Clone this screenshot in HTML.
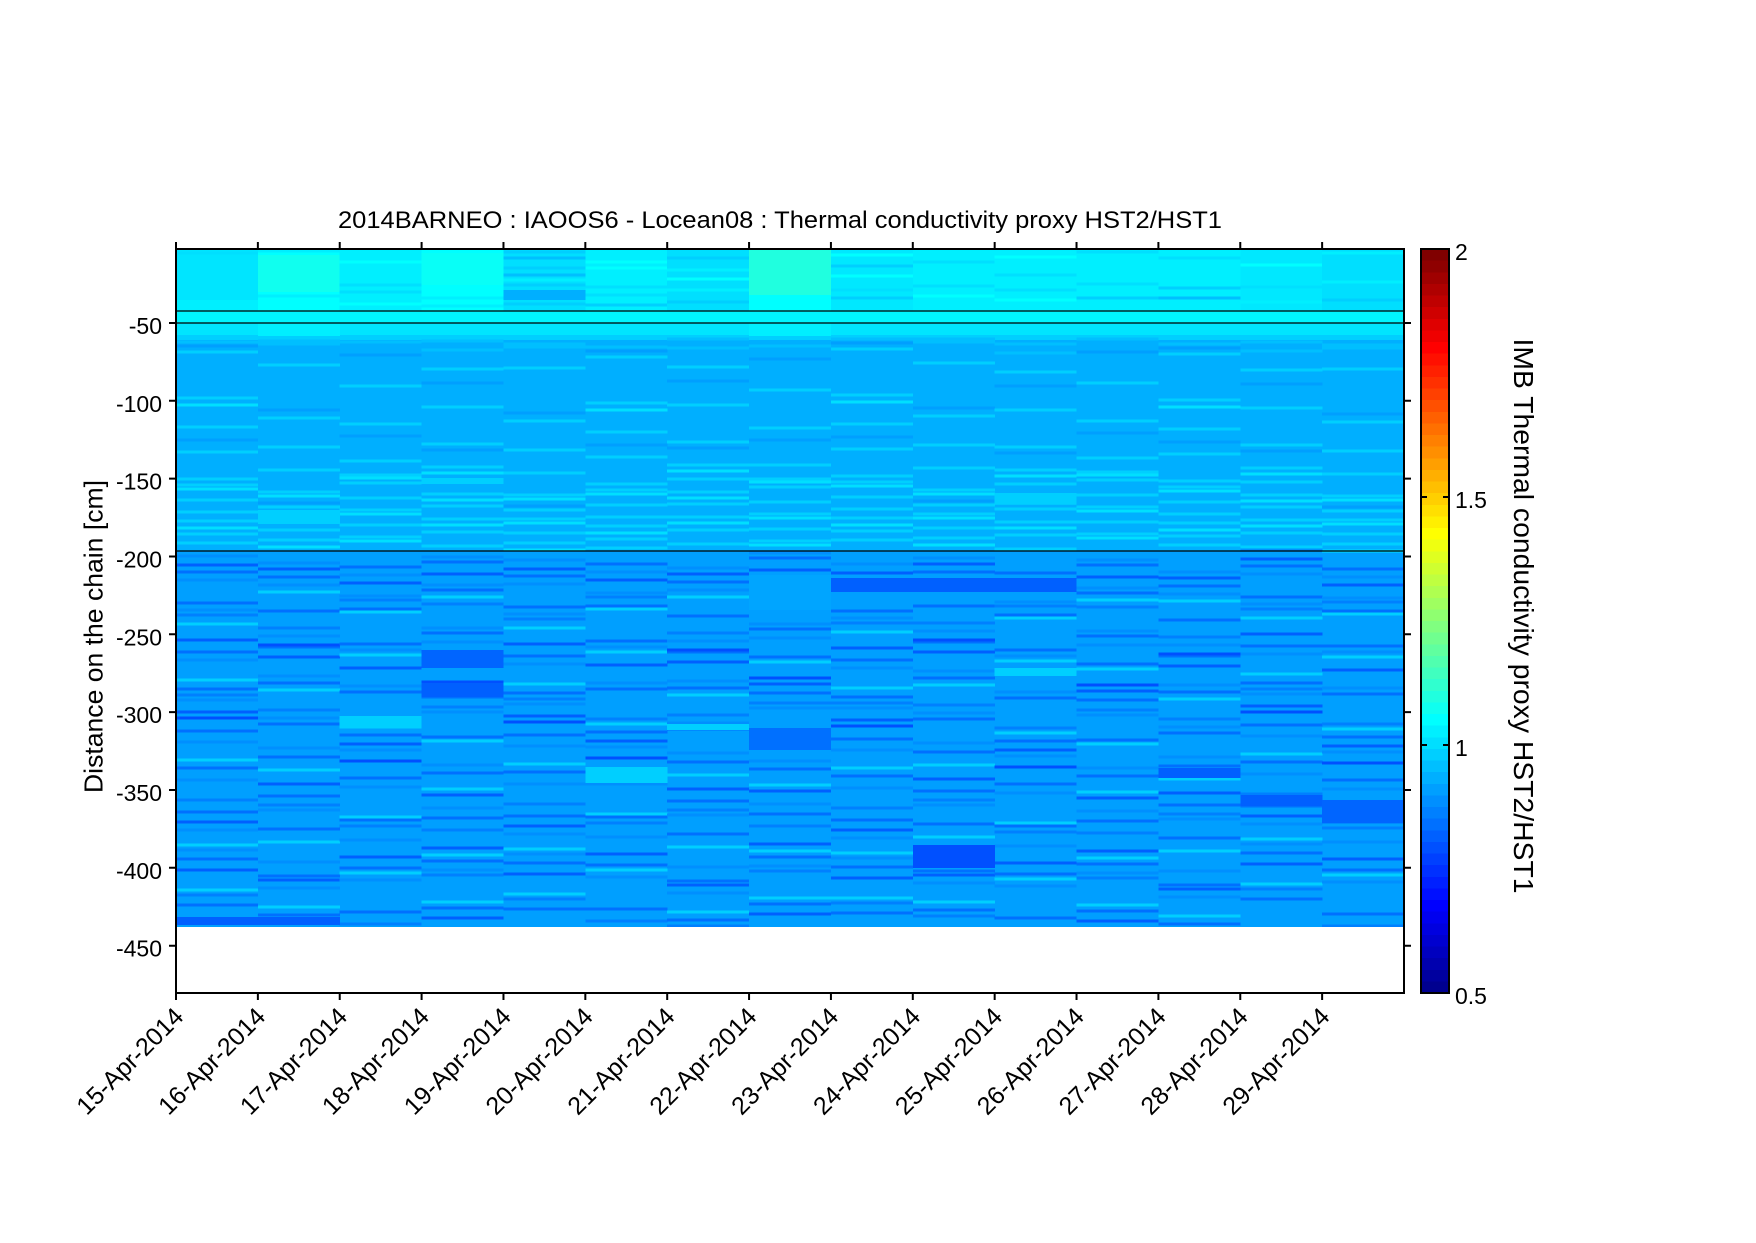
<!DOCTYPE html>
<html>
<head>
<meta charset="utf-8">
<style>
  html,body{margin:0;padding:0;background:#fff;}
  svg{display:block;}
  text{font-family:"Liberation Sans", Arial, sans-serif; fill:#000;}
</style>
</head>
<body>
<svg xmlns="http://www.w3.org/2000/svg" xmlns:xlink="http://www.w3.org/1999/xlink" width="1756" height="1243" viewBox="0 0 1756 1243">
  <defs>
    <g id="m1" fill="none" stroke-width="3.2">
      <path stroke="#00BFFF" d="M0 342h82"/>
      <path stroke="#00CFFF" d="M0 352h82M0 398h82M0 427h82M0 452h82M0 479h82M0 485h82M0 500h82M0 512h82M0 521h82M0 534h82M0 543h82"/>
      <path stroke="#00DFFF" d="M0 405h82M0 489h82M0 528h82"/>
      <path stroke="#009FFF" d="M0 346h82M0 440h82"/>
    </g>
    <g id="m2" fill="none" stroke-width="3.2">
      <path stroke="#00BFFF" d="M0 341h82M0 344h82"/>
      <path stroke="#00CFFF" d="M0 365h82M0 418h82M0 447h82M0 470h82M0 492h82M0 507h82M0 516h82M0 530h82M0 540h82"/>
      <path stroke="#00DFFF" d="M0 496h82M0 520h82M0 547h82"/>
      <path stroke="#009FFF" d="M0 410h82M0 503h82"/>
    </g>
    <g id="m3" fill="none" stroke-width="3.2">
      <path stroke="#00BFFF" d="M0 342h82"/>
      <path stroke="#00CFFF" d="M0 386h82M0 424h82M0 461h82M0 475h82M0 483h82M0 498h82M0 510h82M0 525h82M0 537h82"/>
      <path stroke="#00DFFF" d="M0 478h82M0 514h82M0 541h82"/>
      <path stroke="#009FFF" d="M0 355h82M0 436h82"/>
    </g>
    <g id="m4" fill="none" stroke-width="3.2">
      <path stroke="#00BFFF" d="M0 341h82M0 350h82"/>
      <path stroke="#00CFFF" d="M0 369h82M0 407h82M0 444h82M0 467h82M0 481h82M0 494h82M0 506h82M0 519h82M0 532h82M0 546h82"/>
      <path stroke="#00DFFF" d="M0 473h82M0 500h82M0 525h82"/>
      <path stroke="#009FFF" d="M0 383h82M0 450h82"/>
    </g>

    <g id="l1" fill="none" stroke-width="3.2">
      <path stroke="#008FFF" d="M0 556h82M0 610h82M0 700h82M0 780h82M0 830h82M0 580h82M0 660h82M0 742h82M0 850h82"/>
      <path stroke="#0080FF" d="M0 615h82M0 695h82M0 800h82M0 895h82"/>
      <path stroke="#0070FF" d="M0 572h82M0 603h82M0 652h82M0 689h82M0 731h82M0 768h82M0 812h82M0 859h82M0 905h82"/>
      <path stroke="#0060FF" d="M0 565h82M0 640h82M0 712h82M0 822h82M0 870h82"/>
      <path stroke="#0050FF" d="M0 718h82"/>
      <path stroke="#00CFFF" d="M0 624h82M0 680h82M0 760h82M0 845h82M0 890h82"/>
    </g>
    <g id="l2" fill="none" stroke-width="3.2">
      <path stroke="#008FFF" d="M0 563h82M0 636h82M0 718h82M0 810h82M0 888h82M0 585h82M0 676h82M0 748h82M0 862h82"/>
      <path stroke="#0080FF" d="M0 628h82M0 710h82M0 805h82M0 921h82"/>
      <path stroke="#0070FF" d="M0 577h82M0 611h82M0 647h82M0 683h82M0 724h82M0 757h82M0 796h82M0 829h82M0 876h82M0 915h82"/>
      <path stroke="#0060FF" d="M0 569h82M0 657h82M0 784h82M0 880h82"/>
      <path stroke="#0050FF" d="M0 645h82"/>
      <path stroke="#00CFFF" d="M0 592h82M0 690h82M0 770h82M0 842h82M0 907h82"/>
    </g>
    <g id="l3" fill="none" stroke-width="3.2">
      <path stroke="#008FFF" d="M0 596h82M0 650h82M0 750h82M0 840h82M0 575h82M0 686h82M0 787h82M0 880h82"/>
      <path stroke="#0080FF" d="M0 600h82M0 722h82M0 826h82M0 924h82"/>
      <path stroke="#0070FF" d="M0 567h82M0 609h82M0 644h82M0 692h82M0 735h82M0 778h82M0 820h82M0 868h82M0 912h82"/>
      <path stroke="#0060FF" d="M0 583h82M0 668h82M0 744h82M0 857h82"/>
      <path stroke="#0050FF" d="M0 761h82"/>
      <path stroke="#00CFFF" d="M0 612h82M0 655h82M0 727h82M0 817h82M0 873h82"/>
    </g>
    <g id="l4" fill="none" stroke-width="3.2">
      <path stroke="#008FFF" d="M0 585h82M0 628h82M0 712h82M0 808h82M0 870h82M0 557h82M0 642h82M0 765h82"/>
      <path stroke="#0080FF" d="M0 604h82M0 707h82M0 830h82M0 875h82"/>
      <path stroke="#0070FF" d="M0 562h82M0 590h82M0 633h82M0 661h82M0 697h82M0 737h82M0 773h82M0 818h82M0 861h82M0 908h82"/>
      <path stroke="#0060FF" d="M0 574h82M0 688h82M0 795h82M0 848h82M0 918h82"/>
      <path stroke="#0050FF" d="M0 682h82"/>
      <path stroke="#00CFFF" d="M0 597h82M0 666h82M0 741h82M0 789h82M0 855h82M0 902h82"/>
    </g>
  </defs>

  <rect x="0" y="0" width="1756" height="1243" fill="#fff"/>

  <!-- ===== data ===== -->
  <g shape-rendering="crispEdges">
    <!-- zone bases -->
    <rect x="176" y="249" width="1228" height="62" fill="#00E8FF"/>
    <rect x="176" y="311" width="1228" height="12" fill="#00F5FF"/>
    <rect x="176" y="323" width="1228" height="12" fill="#00E5FF"/>
    <rect x="176" y="335" width="1228" height="5" fill="#00CFFF"/>
    <rect x="176" y="340" width="1228" height="211" fill="#00AFFF"/>
    <rect x="176" y="551" width="1228" height="376" fill="#009FFF"/>

    <!-- top zone per column -->
    <g fill="none" stroke-width="3.2">
      <!-- c0 -->
      <rect x="176" y="249" width="82" height="62" fill="#00E5FF" stroke="none"/>
      <rect x="176" y="300" width="82" height="11" fill="#00EFFF" stroke="none"/>
      <path stroke="#00DFFF" d="M176 253h82"/>
      <!-- c1 -->
      <rect x="257.9" y="249" width="82" height="62" fill="#00FFFF" stroke="none"/>
      <rect x="257.9" y="255" width="82" height="37" fill="#10FFEF" stroke="none"/>
      <path stroke="#00EFFF" d="M257.9 296h82M257.9 251h82"/>
      <!-- c2 -->
      <rect x="339.7" y="249" width="82" height="62" fill="#00EFFF" stroke="none"/>
      <path stroke="#00FFFF" d="M339.7 262h82M339.7 304h82"/>
      <path stroke="#00DFFF" d="M339.7 285h82M339.7 292h82"/>
      <!-- c3 -->
      <rect x="421.6" y="249" width="82" height="62" fill="#00FFFF" stroke="none"/>
      <rect x="421.6" y="253" width="82" height="32" fill="#08FFF7" stroke="none"/>
      <path stroke="#00EFFF" d="M421.6 298h82M421.6 306h82"/>
      <!-- c4 -->
      <rect x="503.5" y="249" width="82" height="62" fill="#00DFFF" stroke="none"/>
      <rect x="503.5" y="290" width="82" height="10" fill="#00AFFF" stroke="none"/>
      <path stroke="#00CFFF" d="M503.5 252h82M503.5 268h82M503.5 304h82M503.5 285h82"/>
      <path stroke="#00BFFF" d="M503.5 258h82M503.5 275h82"/>
      <path stroke="#00EFFF" d="M503.5 280h82"/>
      <!-- c5 -->
      <rect x="585.3" y="249" width="82" height="62" fill="#00EFFF" stroke="none"/>
      <path stroke="#00FFFF" d="M585.3 262h82M585.3 268h82"/>
      <path stroke="#00DFFF" d="M585.3 287h82M585.3 295h82"/>
      <path stroke="#00CFFF" d="M585.3 305h82"/>
      <!-- c6 -->
      <rect x="667.2" y="249" width="82" height="62" fill="#00DFFF" stroke="none"/>
      <path stroke="#00CFFF" d="M667.2 258h82M667.2 302h82"/>
      <path stroke="#00EFFF" d="M667.2 270h82M667.2 290h82"/>
      <path stroke="#00FFFF" d="M667.2 279h82"/>
      <!-- c7 -->
      <rect x="749.1" y="249" width="82" height="46" fill="#20FFDF" stroke="none"/>
      <rect x="749.1" y="295" width="82" height="16" fill="#00FFFF" stroke="none"/>
      <!-- c8 -->
      <rect x="830.9" y="249" width="82" height="62" fill="#00E8FF" stroke="none"/>
      <path stroke="#00FFFF" d="M830.9 255h82M830.9 276h82"/>
      <path stroke="#00CFFF" d="M830.9 266h82M830.9 298h82"/>
      <path stroke="#00DFFF" d="M830.9 290h82"/>
      <!-- c9 -->
      <rect x="912.8" y="249" width="82" height="62" fill="#00EFFF" stroke="none"/>
      <path stroke="#00DFFF" d="M912.8 262h82M912.8 286h82"/>
      <path stroke="#00FFFF" d="M912.8 296h82"/>
      <!-- c10 -->
      <rect x="994.7" y="249" width="82" height="62" fill="#00EFFF" stroke="none"/>
      <path stroke="#00FFFF" d="M994.7 257h82M994.7 300h82"/>
      <path stroke="#00DFFF" d="M994.7 275h82M994.7 290h82"/>
      <!-- c11 -->
      <rect x="1076.5" y="249" width="82" height="62" fill="#00EFFF" stroke="none"/>
      <path stroke="#00DFFF" d="M1076.5 252h82M1076.5 284h82"/>
      <path stroke="#00CFFF" d="M1076.5 298h82"/>
      <!-- c12 -->
      <rect x="1158.4" y="249" width="82" height="62" fill="#00EFFF" stroke="none"/>
      <path stroke="#00DFFF" d="M1158.4 258h82"/>
      <path stroke="#00CFFF" d="M1158.4 288h82"/>
      <path stroke="#00BFFF" d="M1158.4 298h82"/>
      <!-- c13 -->
      <rect x="1240.3" y="249" width="82" height="62" fill="#00E8FF" stroke="none"/>
      <path stroke="#00FFFF" d="M1240.3 265h82"/>
      <path stroke="#00DFFF" d="M1240.3 287h82"/>
      <path stroke="#00EFFF" d="M1240.3 302h82"/>
      <!-- c14 -->
      <rect x="1322.1" y="249" width="82" height="62" fill="#00DFFF" stroke="none"/>
      <path stroke="#00EFFF" d="M1322.1 253h82M1322.1 282h82"/>
      <path stroke="#00CFFF" d="M1322.1 300h82"/>
      <!-- transition band variation -->
      <rect x="257.9" y="323" width="82" height="13" fill="#00EFFF" stroke="none"/>
      <rect x="749.1" y="323" width="82" height="13" fill="#00EFFF" stroke="none"/>
    </g>

    <!-- middle zone patterns -->
    <use href="#m1" xlink:href="#m1" x="176" y="0"/>
    <use href="#m2" xlink:href="#m2" x="257.9" y="0"/>
    <use href="#m3" xlink:href="#m3" x="339.7" y="0"/>
    <use href="#m4" xlink:href="#m4" x="421.6" y="0"/>
    <use href="#m2" xlink:href="#m2" x="503.5" y="3"/>
    <use href="#m1" xlink:href="#m1" x="585.3" y="5"/>
    <use href="#m4" xlink:href="#m4" x="667.2" y="-2"/>
    <use href="#m3" xlink:href="#m3" x="749.1" y="4"/>
    <use href="#m1" xlink:href="#m1" x="830.9" y="-3"/>
    <use href="#m2" xlink:href="#m2" x="912.8" y="-2"/>
    <use href="#m4" xlink:href="#m4" x="994.7" y="3"/>
    <use href="#m3" xlink:href="#m3" x="1076.5" y="-3"/>
    <use href="#m1" xlink:href="#m1" x="1158.4" y="2"/>
    <use href="#m4" xlink:href="#m4" x="1240.3" y="1"/>
    <use href="#m2" xlink:href="#m2" x="1322.1" y="4"/>

    <!-- lower zone patterns -->
    <use href="#l1" xlink:href="#l1" x="176" y="0"/>
    <use href="#l2" xlink:href="#l2" x="257.9" y="0"/>
    <use href="#l3" xlink:href="#l3" x="339.7" y="0"/>
    <use href="#l4" xlink:href="#l4" x="421.6" y="0"/>
    <use href="#l1" xlink:href="#l1" x="503.5" y="4"/>
    <use href="#l3" xlink:href="#l3" x="585.3" y="-3"/>
    <use href="#l2" xlink:href="#l2" x="667.2" y="5"/>
    <use href="#l4" xlink:href="#l4" x="749.1" y="-4"/>
    <use href="#l1" xlink:href="#l1" x="830.9" y="8"/>
    <use href="#l2" xlink:href="#l2" x="912.8" y="-5"/>
    <use href="#l3" xlink:href="#l3" x="994.7" y="6"/>
    <use href="#l4" xlink:href="#l4" x="1076.5" y="3"/>
    <use href="#l2" xlink:href="#l2" x="1158.4" y="9"/>
    <use href="#l1" xlink:href="#l1" x="1240.3" y="-6"/>
    <use href="#l3" xlink:href="#l3" x="1322.1" y="2"/>

    <!-- column-specific blocks -->
    <rect x="257.9" y="510" width="82" height="14" fill="#00CFFF"/>
    <rect x="421.6" y="478" width="82" height="6" fill="#00CFFF"/>
    <rect x="994.7" y="493" width="82" height="11" fill="#00CFFF"/>
    <rect x="421.6" y="650" width="82" height="18" fill="#0065FF"/>
    <rect x="421.6" y="683" width="82" height="14" fill="#0060FF"/>
    <rect x="339.7" y="716" width="82" height="10" fill="#00CFFF"/>
    <rect x="585.3" y="767" width="82" height="16" fill="#00CFFF"/>
    <rect x="667.2" y="724" width="82" height="6" fill="#00CFFF"/>
    <rect x="749.1" y="575" width="82" height="35" fill="#00A5FF"/>
    <rect x="749.1" y="728" width="82" height="22" fill="#0070FF"/>
    <rect x="830.9" y="578" width="82" height="14" fill="#0060FF"/>
    <rect x="912.8" y="578" width="82" height="14" fill="#0060FF"/>
    <rect x="994.7" y="578" width="82" height="14" fill="#0060FF"/>
    <rect x="912.8" y="845" width="82" height="23" fill="#0050FF"/>
    <rect x="994.7" y="668" width="82" height="8" fill="#00CFFF"/>
    <rect x="1158.4" y="768" width="82" height="10" fill="#0060FF"/>
    <rect x="1240.3" y="795" width="82" height="11" fill="#0060FF"/>
    <rect x="1322.1" y="800" width="82" height="23" fill="#0065FF"/>
    <rect x="176" y="917" width="164" height="8" fill="#0060FF"/>

    <!-- cover overflow below data -->
    <rect x="170" y="927" width="1245" height="65" fill="#fff"/>
  </g>

  <!-- horizontal reference lines -->
  <g stroke="#000" stroke-width="1.3">
    <line x1="176" y1="311" x2="1404" y2="311"/>
    <line x1="176" y1="323" x2="1404" y2="323"/>
    <line x1="176" y1="551" x2="1404" y2="551"/>
  </g>

  <!-- axes box -->
  <rect x="176" y="249" width="1228" height="744" fill="none" stroke="#000" stroke-width="2"/>

  <!-- ticks -->
  <path stroke="#000" stroke-width="2" fill="none" d="
    M176 993v7 M257.87 993v7 M339.73 993v7 M421.6 993v7 M503.47 993v7 M585.33 993v7 M667.2 993v7 M749.07 993v7 M830.93 993v7 M912.8 993v7 M994.67 993v7 M1076.53 993v7 M1158.4 993v7 M1240.27 993v7 M1322.13 993v7
    M176 249v-7 M257.87 249v-7 M339.73 249v-7 M421.6 249v-7 M503.47 249v-7 M585.33 249v-7 M667.2 249v-7 M749.07 249v-7 M830.93 249v-7 M912.8 249v-7 M994.67 249v-7 M1076.53 249v-7 M1158.4 249v-7 M1240.27 249v-7 M1322.13 249v-7
    M169 323h7 M169 400.8h7 M169 478.6h7 M169 556.5h7 M169 634.3h7 M169 712.1h7 M169 790h7 M169 867.8h7 M169 945.7h7
    M1404 323h7 M1404 400.8h7 M1404 478.6h7 M1404 556.5h7 M1404 634.3h7 M1404 712.1h7 M1404 790h7 M1404 867.8h7 M1404 945.7h7
  "/>

  <!-- y tick labels -->
  <g font-size="23" text-anchor="end">
    <text x="162" y="334">-50</text>
    <text x="162" y="411.8">-100</text>
    <text x="162" y="489.6">-150</text>
    <text x="162" y="567.5">-200</text>
    <text x="162" y="645.3">-250</text>
    <text x="162" y="723.1">-300</text>
    <text x="162" y="801">-350</text>
    <text x="162" y="878.8">-400</text>
    <text x="162" y="956.7">-450</text>
  </g>

  <!-- x tick labels -->
  <g font-size="25" text-anchor="end">
    <text x="185" y="1018" transform="rotate(-45 185 1018)">15-Apr-2014</text>
    <text x="266.9" y="1018" transform="rotate(-45 266.9 1018)">16-Apr-2014</text>
    <text x="348.7" y="1018" transform="rotate(-45 348.7 1018)">17-Apr-2014</text>
    <text x="430.6" y="1018" transform="rotate(-45 430.6 1018)">18-Apr-2014</text>
    <text x="512.5" y="1018" transform="rotate(-45 512.5 1018)">19-Apr-2014</text>
    <text x="594.3" y="1018" transform="rotate(-45 594.3 1018)">20-Apr-2014</text>
    <text x="676.2" y="1018" transform="rotate(-45 676.2 1018)">21-Apr-2014</text>
    <text x="758.1" y="1018" transform="rotate(-45 758.1 1018)">22-Apr-2014</text>
    <text x="839.9" y="1018" transform="rotate(-45 839.9 1018)">23-Apr-2014</text>
    <text x="921.8" y="1018" transform="rotate(-45 921.8 1018)">24-Apr-2014</text>
    <text x="1003.7" y="1018" transform="rotate(-45 1003.7 1018)">25-Apr-2014</text>
    <text x="1085.5" y="1018" transform="rotate(-45 1085.5 1018)">26-Apr-2014</text>
    <text x="1167.4" y="1018" transform="rotate(-45 1167.4 1018)">27-Apr-2014</text>
    <text x="1249.3" y="1018" transform="rotate(-45 1249.3 1018)">28-Apr-2014</text>
    <text x="1331.1" y="1018" transform="rotate(-45 1331.1 1018)">29-Apr-2014</text>
  </g>

  <!-- title -->
  <text x="780" y="228" font-size="24" text-anchor="middle" textLength="884" lengthAdjust="spacingAndGlyphs">2014BARNEO : IAOOS6 - Locean08 : Thermal conductivity proxy HST2/HST1</text>

  <!-- y label -->
  <text x="102.5" y="636.5" font-size="26" text-anchor="middle" textLength="313" lengthAdjust="spacingAndGlyphs" transform="rotate(-90 102.5 636.5)">Distance on the chain [cm]</text>

  <!-- colorbar: 64 jet bands -->
  <g shape-rendering="crispEdges">
    <rect x="1421" y="249" width="28" height="12" fill="#800000"/>
    <rect x="1421" y="260.6" width="28" height="12" fill="#8F0000"/>
    <rect x="1421" y="272.3" width="28" height="12" fill="#9F0000"/>
    <rect x="1421" y="283.9" width="28" height="12" fill="#AF0000"/>
    <rect x="1421" y="295.5" width="28" height="12" fill="#BF0000"/>
    <rect x="1421" y="307.1" width="28" height="12" fill="#CF0000"/>
    <rect x="1421" y="318.8" width="28" height="12" fill="#DF0000"/>
    <rect x="1421" y="330.4" width="28" height="12" fill="#EF0000"/>
    <rect x="1421" y="342" width="28" height="12" fill="#FF0000"/>
    <rect x="1421" y="353.6" width="28" height="12" fill="#FF1000"/>
    <rect x="1421" y="365.3" width="28" height="12" fill="#FF2000"/>
    <rect x="1421" y="376.9" width="28" height="12" fill="#FF3000"/>
    <rect x="1421" y="388.5" width="28" height="12" fill="#FF4000"/>
    <rect x="1421" y="400.1" width="28" height="12" fill="#FF5000"/>
    <rect x="1421" y="411.8" width="28" height="12" fill="#FF6000"/>
    <rect x="1421" y="423.4" width="28" height="12" fill="#FF7000"/>
    <rect x="1421" y="435" width="28" height="12" fill="#FF8000"/>
    <rect x="1421" y="446.6" width="28" height="12" fill="#FF8F00"/>
    <rect x="1421" y="458.3" width="28" height="12" fill="#FF9F00"/>
    <rect x="1421" y="469.9" width="28" height="12" fill="#FFAF00"/>
    <rect x="1421" y="481.5" width="28" height="12" fill="#FFBF00"/>
    <rect x="1421" y="493.1" width="28" height="12" fill="#FFCF00"/>
    <rect x="1421" y="504.8" width="28" height="12" fill="#FFDF00"/>
    <rect x="1421" y="516.4" width="28" height="12" fill="#FFEF00"/>
    <rect x="1421" y="528" width="28" height="12" fill="#FFFF00"/>
    <rect x="1421" y="539.6" width="28" height="12" fill="#EFFF10"/>
    <rect x="1421" y="551.3" width="28" height="12" fill="#DFFF20"/>
    <rect x="1421" y="562.9" width="28" height="12" fill="#CFFF30"/>
    <rect x="1421" y="574.5" width="28" height="12" fill="#BFFF40"/>
    <rect x="1421" y="586.1" width="28" height="12" fill="#AFFF50"/>
    <rect x="1421" y="597.8" width="28" height="12" fill="#9FFF60"/>
    <rect x="1421" y="609.4" width="28" height="12" fill="#8FFF70"/>
    <rect x="1421" y="621" width="28" height="12" fill="#80FF80"/>
    <rect x="1421" y="632.6" width="28" height="12" fill="#70FF8F"/>
    <rect x="1421" y="644.3" width="28" height="12" fill="#60FF9F"/>
    <rect x="1421" y="655.9" width="28" height="12" fill="#50FFAF"/>
    <rect x="1421" y="667.5" width="28" height="12" fill="#40FFBF"/>
    <rect x="1421" y="679.1" width="28" height="12" fill="#30FFCF"/>
    <rect x="1421" y="690.8" width="28" height="12" fill="#20FFDF"/>
    <rect x="1421" y="702.4" width="28" height="12" fill="#10FFEF"/>
    <rect x="1421" y="714" width="28" height="12" fill="#00FFFF"/>
    <rect x="1421" y="725.6" width="28" height="12" fill="#00EFFF"/>
    <rect x="1421" y="737.3" width="28" height="12" fill="#00DFFF"/>
    <rect x="1421" y="748.9" width="28" height="12" fill="#00CFFF"/>
    <rect x="1421" y="760.5" width="28" height="12" fill="#00BFFF"/>
    <rect x="1421" y="772.1" width="28" height="12" fill="#00AFFF"/>
    <rect x="1421" y="783.8" width="28" height="12" fill="#009FFF"/>
    <rect x="1421" y="795.4" width="28" height="12" fill="#008FFF"/>
    <rect x="1421" y="807" width="28" height="12" fill="#0080FF"/>
    <rect x="1421" y="818.6" width="28" height="12" fill="#0070FF"/>
    <rect x="1421" y="830.3" width="28" height="12" fill="#0060FF"/>
    <rect x="1421" y="841.9" width="28" height="12" fill="#0050FF"/>
    <rect x="1421" y="853.5" width="28" height="12" fill="#0040FF"/>
    <rect x="1421" y="865.1" width="28" height="12" fill="#0030FF"/>
    <rect x="1421" y="876.8" width="28" height="12" fill="#0020FF"/>
    <rect x="1421" y="888.4" width="28" height="12" fill="#0010FF"/>
    <rect x="1421" y="900" width="28" height="12" fill="#0000FF"/>
    <rect x="1421" y="911.6" width="28" height="12" fill="#0000EF"/>
    <rect x="1421" y="923.3" width="28" height="12" fill="#0000DF"/>
    <rect x="1421" y="934.9" width="28" height="12" fill="#0000CF"/>
    <rect x="1421" y="946.5" width="28" height="12" fill="#0000BF"/>
    <rect x="1421" y="958.1" width="28" height="12" fill="#0000AF"/>
    <rect x="1421" y="969.8" width="28" height="12" fill="#00009F"/>
    <rect x="1421" y="981.4" width="28" height="11.6" fill="#00008F"/>
  </g>
  <rect x="1421" y="249" width="28" height="744" fill="none" stroke="#000" stroke-width="2"/>
  <path stroke="#000" stroke-width="2" d="M1421 497h6 M1449 497h-6 M1421 745h6 M1449 745h-6"/>
  <g font-size="23">
    <text x="1455" y="260">2</text>
    <text x="1455" y="508">1.5</text>
    <text x="1455" y="756">1</text>
    <text x="1455" y="1004">0.5</text>
  </g>
  <text x="1514" y="616" font-size="28" text-anchor="middle" textLength="555" lengthAdjust="spacingAndGlyphs" transform="rotate(90 1514 616)">IMB Thermal conductivity proxy HST2/HST1</text>
</svg>
</body>
</html>
